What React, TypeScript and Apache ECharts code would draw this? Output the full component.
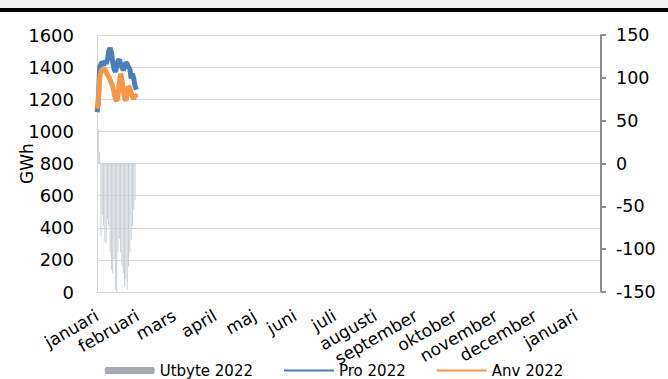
import React, { useEffect, useRef } from "react";
import * as echarts from "echarts";

// Daily values from 1 January 2022 (index 0 = 1 jan)
const proValues = [
  1120, 1180, 1400, 1420, 1430, 1410, 1440, 1420, 1450, 1500, 1520, 1490, 1430, 1390, 1370, 1400,
  1440, 1445, 1420, 1400, 1380, 1400, 1430, 1420, 1400, 1390, 1330, 1360, 1330, 1280, 1260,
];
const anvValues = [
  1140, 1200, 1330, 1370, 1390, 1385, 1390, 1370, 1350, 1340, 1320, 1300, 1280, 1240, 1200, 1190,
  1220, 1300, 1360, 1320, 1260, 1210, 1190, 1230, 1280, 1270, 1240, 1220, 1200, 1230, 1210,
];
const utbyteValues: (number | null)[] = [
  null, 40, 13, -85, -60, -73, -91, -93, -65, -73, -104, -124, -128, -112, -147, -150,
  -104, -88, -104, -120, -128, -143, -135, -147, -120, -104, -89, -73, -54, -43, null,
];

// Month labels and the day offset where each month starts
const monthNames = [
  "januari", "februari", "mars", "april", "maj", "juni", "juli",
  "augusti", "september", "oktober", "november", "december", "januari",
];
const monthStartDays = [0, 31, 59, 90, 120, 151, 181, 212, 243, 273, 304, 334, 365];
const axisDayCount = 385;

const leftTicks = { min: 0, max: 1600, interval: 200 };
const rightTicks = { min: -150, max: 150, interval: 50 };

const FONT = "DejaVu Sans";

// One category per day, starting 1 January 2022
const dayCategories: string[] = [];
for (let i = 0; i < axisDayCount; i++) {
  const d = new Date(Date.UTC(2022, 0, 1 + i));
  dayCategories.push(d.toISOString().slice(0, 10));
}

export default function App() {
  const ref = useRef<HTMLDivElement>(null);

  useEffect(() => {
    if (!ref.current) return;
    const chart = echarts.init(ref.current, null, { renderer: "svg" });

    chart.setOption({
      animation: false,
      backgroundColor: "#ffffff",
      textStyle: { fontFamily: FONT },
      graphic: [
        { type: "rect", left: 0, top: 0, shape: { width: 668, height: 8 }, style: { fill: "#f2f2f2" } },
        { type: "rect", left: 0, top: 8, shape: { width: 668, height: 4 }, style: { fill: "#000000" } },
      ],
      grid: { left: 97, right: 67, top: 35, bottom: 87 },
      legend: {
        top: 358,
        left: "center",
        itemWidth: 50,
        itemHeight: 7,
        itemGap: 30,
        textStyle: { fontFamily: FONT, fontSize: 15, color: "#000" },
        data: [
          { name: "Utbyte 2022", itemStyle: { color: "#a6acb3" } },
          { name: "Pro 2022", itemStyle: { opacity: 0 } },
          { name: "Anv 2022", itemStyle: { opacity: 0 } },
        ],
      },
      xAxis: {
        type: "category",
        data: dayCategories,
        boundaryGap: false,
        axisLine: { show: true, lineStyle: { color: "#d9d9d9", width: 1 } },
        axisTick: { show: false },
        splitLine: { show: false },
        axisLabel: {
          interval: (index: number) => monthStartDays.includes(index),
          formatter: (_v: string, index: number) => monthNames[monthStartDays.indexOf(index)] ?? "",
          rotate: 30,
          margin: 22,
          padding: [31, 0, 0, 0],
          fontFamily: FONT,
          fontSize: 17,
          color: "#000",
        },
      },
      yAxis: [
        {
          type: "value",
          ...leftTicks,
          name: "GWh",
          nameLocation: "middle",
          nameGap: 62,
          nameRotate: 90,
          nameMoveOverlap: false,
          nameTextStyle: { fontFamily: FONT, fontSize: 17, color: "#000" },
          axisLine: { show: true, lineStyle: { color: "#d9d9d9", width: 1 } },
          axisTick: { show: false },
          splitLine: { show: true, lineStyle: { color: "#d9d9d9", width: 1 } },
          axisLabel: {
            margin: 23,
            fontFamily: FONT,
            fontSize: 18,
            color: "#000",
            formatter: (v: number) => String(v),
          },
        },
        {
          type: "value",
          position: "right",
          ...rightTicks,
          axisLine: { show: true, lineStyle: { color: "#8c8c8c", width: 2 } },
          axisTick: { show: true, inside: false, length: 5, lineStyle: { color: "#8c8c8c", width: 2 } },
          splitLine: { show: false },
          axisLabel: {
            margin: 15,
            fontFamily: FONT,
            fontSize: 17.5,
            color: "#000",
            formatter: (v: number) => String(v),
          },
        },
      ],
      series: [
        {
          name: "Utbyte 2022",
          type: "bar",
          yAxisIndex: 1,
          barWidth: 1,
          itemStyle: { color: "#c9ced3" },
          data: utbyteValues,
        },
        {
          name: "Pro 2022",
          type: "line",
          yAxisIndex: 0,
          symbol: "none",
          lineStyle: { color: "#4a7ebb", width: 5 },
          itemStyle: { color: "#4a7ebb" },
          data: proValues,
        },
        {
          name: "Anv 2022",
          type: "line",
          yAxisIndex: 0,
          symbol: "none",
          lineStyle: { color: "#f79646", width: 5 },
          itemStyle: { color: "#f79646" },
          data: anvValues,
        },
      ],
    });

    return () => chart.dispose();
  }, []);

  return (
    <div
      ref={ref}
      style={{ position: "fixed", left: 0, top: 0, width: 668, height: 379, background: "#fff" }}
    />
  );
}
